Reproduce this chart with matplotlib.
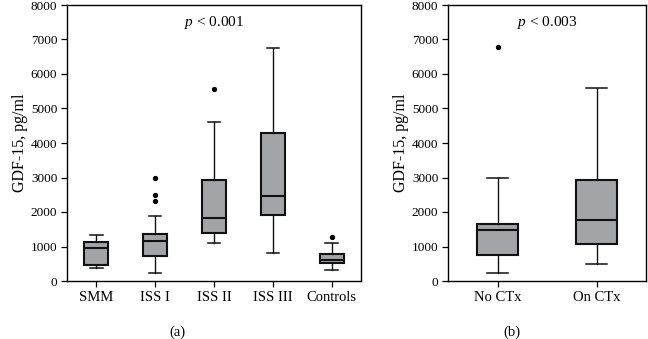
import matplotlib
matplotlib.use('Agg')
import matplotlib.pyplot as plt

plt.rcParams['font.family'] = ['Liberation Serif', 'DejaVu Serif']
plt.rcParams['mathtext.fontset'] = 'custom'
plt.rcParams['mathtext.rm'] = 'Liberation Serif'
plt.rcParams['mathtext.it'] = 'Liberation Serif:italic'

# panel (a): GDF-15 by stage
groups_a = ['SMM', 'ISS I', 'ISS II', 'ISS III', 'Controls']
whislo_a = [390, 240, 1100, 800, 320]
q1_a = [465, 735, 1390, 1905, 515]
med_a = [960, 1150, 1830, 2465, 600]
q3_a = [1120, 1350, 2920, 4285, 780]
whishi_a = [1320, 1895, 4595, 6750, 1110]
fliers_a = [[], [2330, 2495, 2990], [5560], [], [1265]]

# panel (b): chemotherapy
groups_b = ['No CTx', 'On CTx']
whislo_b = [240, 485]
q1_b = [745, 1080]
med_b = [1470, 1770]
q3_b = [1665, 2920]
whishi_b = [3000, 5580]
fliers_b = [[6780], []]

pvals = ['0.001', '0.003']

fig = plt.figure(figsize=(6.48, 3.39), dpi=100)
ax1 = fig.add_axes([67/648, 58/339, 294/648, 276/339])
ax2 = fig.add_axes([448/648, 58/339, 198/648, 276/339])

def make_stats(names, lo, a, m, b, hi, fl):
    st = []
    for i in range(len(names)):
        st.append({'label': names[i], 'whislo': lo[i], 'q1': a[i], 'med': m[i],
                   'q3': b[i], 'whishi': hi[i], 'fliers': fl[i]})
    return st

box_col = '#a2a4a7'
for ax, stats, pv in [(ax1, make_stats(groups_a, whislo_a, q1_a, med_a, q3_a, whishi_a, fliers_a), pvals[0]),
                      (ax2, make_stats(groups_b, whislo_b, q1_b, med_b, q3_b, whishi_b, fliers_b), pvals[1])]:
    ax.bxp(stats, positions=range(len(stats)), widths=0.41, patch_artist=True,
           boxprops=dict(facecolor=box_col, edgecolor='#111111', linewidth=1.5),
           medianprops=dict(color='#111111', linewidth=1.5),
           whiskerprops=dict(color='#111111', linewidth=1.0),
           capprops=dict(color='#111111', linewidth=1.1),
           capwidths=0.21,
           flierprops=dict(marker='o', markersize=2.8, markerfacecolor='black',
                           markeredgecolor='black'))
    ax.set_xlim(-0.5, len(stats) - 0.5)
    ax.set_ylim(0, 8000)
    ax.set_yticks(range(0, 8001, 1000))
    ax.tick_params(direction='out', length=4, width=0.9, labelsize=9.5, pad=3)
    for s in ax.spines.values():
        s.set_linewidth(1.0)
    ax.set_ylabel('GDF-15, pg/ml', fontsize=11.5, labelpad=2)
    ax.text(0.5, 0.935, '$p$ < ' + pv, transform=ax.transAxes, ha='center',
            va='center', fontsize=11)
    ax.set_xticklabels([st['label'] for st in stats], fontsize=10.5)

fig.text(177/648, 1 - 332/339, '(a)', ha='center', va='center', fontsize=10.5)
fig.text(512/648, 1 - 332/339, '(b)', ha='center', va='center', fontsize=10.5)

fig.savefig('out.png', dpi=100)
